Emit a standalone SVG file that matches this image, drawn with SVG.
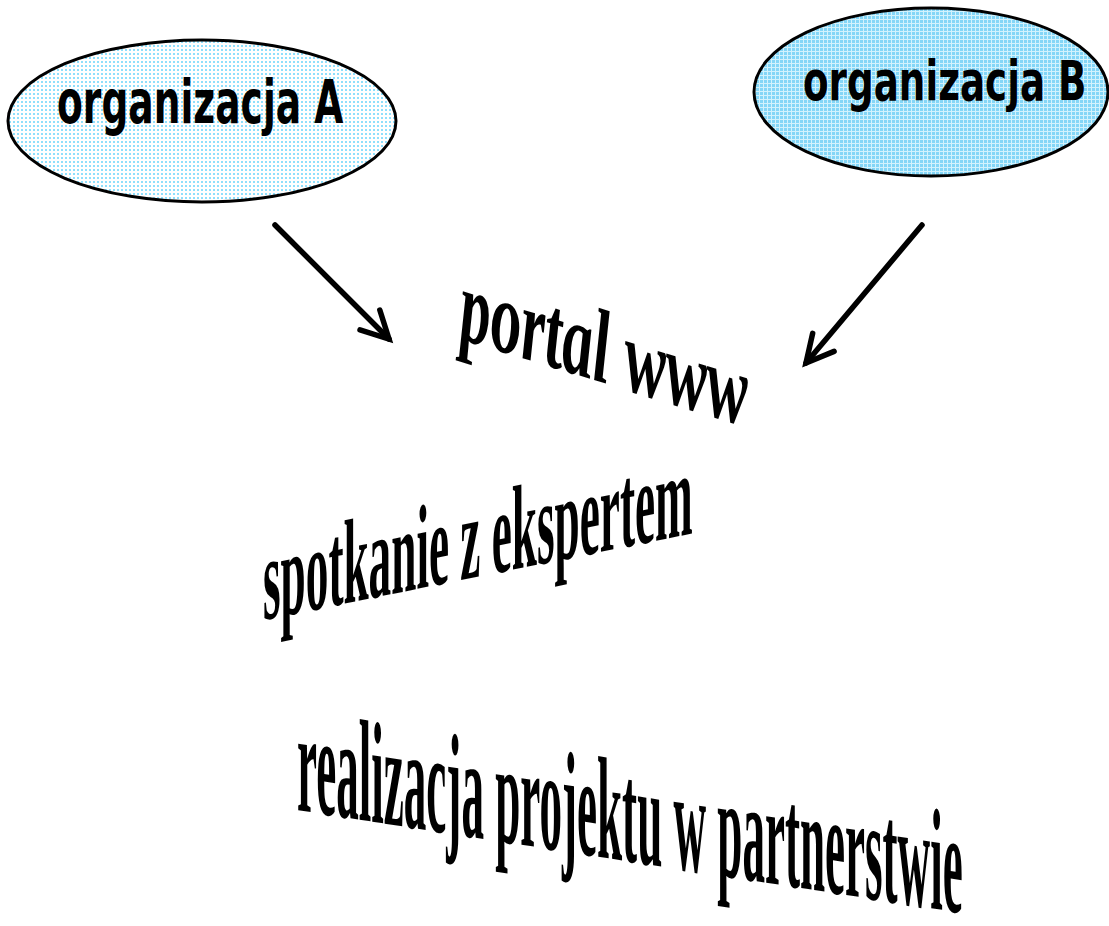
<svg xmlns="http://www.w3.org/2000/svg" width="1109" height="926" viewBox="0 0 1109 926">
  <defs>
    <pattern id="dotsA" width="4" height="4" patternUnits="userSpaceOnUse">
      <rect width="4" height="4" fill="#ffffff"/>
      <rect x="1" y="1" width="2" height="2" fill="#8fdffc"/>
    </pattern>
    <pattern id="dotsB" width="4" height="4" patternUnits="userSpaceOnUse">
      <rect width="4" height="4" fill="#d2f2fd"/>
      <rect x="0" y="0" width="3" height="3" fill="#84d6f7"/>
    </pattern>
    <marker id="arrow" markerUnits="userSpaceOnUse" markerWidth="50" markerHeight="50" viewBox="-40 -25 50 50" refX="0" refY="0" orient="auto" overflow="visible">
      <path d="M-27,-14 L0,0 L-27,14" fill="none" stroke="#000" stroke-width="5.5" stroke-linecap="round" stroke-linejoin="miter"/>
    </marker>
    <style>
      .ell { stroke: #000; stroke-width: 3; }
      .org { font-family: "DejaVu Sans", "Liberation Sans", sans-serif; font-weight: bold; fill: #000; }
      .wa { font-family: "Liberation Serif", "DejaVu Serif", serif; font-weight: bold; fill: #000; }
      .conn { stroke: #000; stroke-width: 5.5; stroke-linecap: round; fill: none; }
    </style>
  </defs>
  <rect width="1109" height="926" fill="#ffffff"/>

  <g id="node-org-a">
    <ellipse class="ell" cx="202" cy="121" rx="194" ry="81" fill="url(#dotsA)"/>
    <text class="org" transform="translate(57,123) scale(0.627,1)" x="0" y="0" font-size="60">organizacja A</text>
  </g>

  <g id="node-org-b">
    <ellipse class="ell" cx="931" cy="92" rx="177" ry="84" fill="url(#dotsB)"/>
    <text class="org" transform="translate(803,100) scale(0.666,1)" x="0" y="0" font-size="56">organizacja B</text>
  </g>

  <g id="connectors">
    <path class="conn" d="M275,225 L389,339" marker-end="url(#arrow)"/>
    <path class="conn" d="M922,225 L806,363" marker-end="url(#arrow)"/>
  </g>

  <g id="node-portal" transform="translate(460,339) skewY(17) scale(0.578,1)">
    <text class="wa" x="0" y="0" font-size="106" font-style="italic">portal www</text>
  </g>

  <g id="node-spotkanie" transform="translate(263,620) skewY(-11.4) scale(0.377,1)">
    <text class="wa" x="0" y="0" font-size="120">spotkanie z ekspertem</text>
  </g>

  <g id="node-realizacja" transform="translate(297,810) skewY(8.8) scale(0.311,1)">
    <text class="wa" x="0" y="0" font-size="145">realizacja projektu w partnerstwie</text>
  </g>
</svg>
